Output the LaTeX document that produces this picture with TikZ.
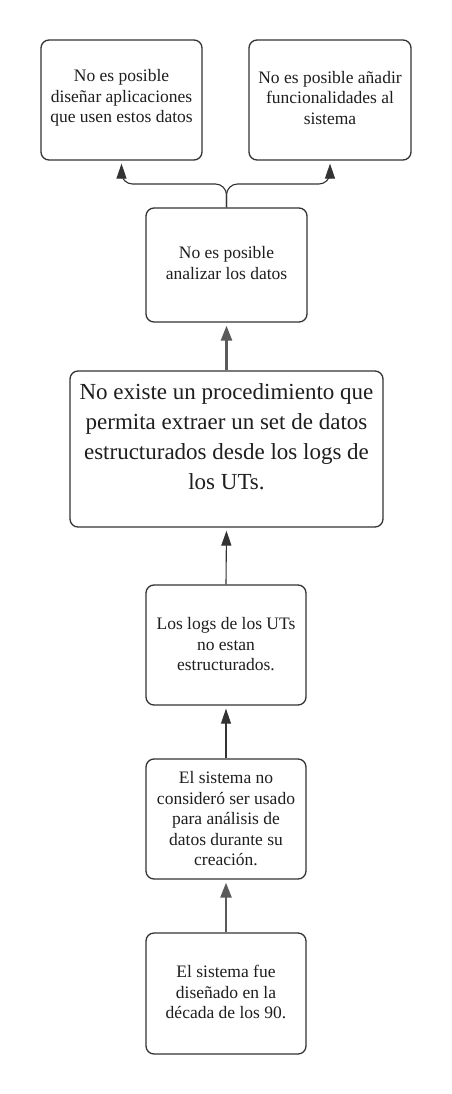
\documentclass[tikz,border=0pt]{standalone}
\usepackage{fontspec}
\setmainfont{Liberation Serif}
\usetikzlibrary{arrows.meta}
\definecolor{boxline}{HTML}{333333}
\definecolor{thickgray}{HTML}{5A5A5A}
\definecolor{txt}{HTML}{1E1E1E}
\tikzset{
  box/.style={draw=boxline, line width=1.3pt, rounded corners=8pt, fill=white, inner sep=0pt},
  smalltxt/.style={align=center, text=txt, font=\fontsize{17.5}{20.5}\selectfont, inner sep=0pt},
  bigtxt/.style={align=center, text=txt, font=\fontsize{23}{30}\selectfont, inner sep=0pt},
  thinarrow/.style={draw=boxline, line width=1.1pt, -{Triangle[length=15pt,width=10pt]}, shorten >=3pt, rounded corners=11pt},
  thickarrow/.style={draw=thickgray, line width=2.4pt, -{Triangle[length=15pt,width=11pt]}, shorten >=3pt}
}
\begin{document}
\begin{tikzpicture}[x=1pt,y=-1pt]
\useasboundingbox (0,0) rectangle (451,1094);
% boxes
\node[box, minimum width=161pt, minimum height=120pt] (b1) at (121.5,100) {};
\node[box, minimum width=162pt, minimum height=120pt] (b2) at (330,100) {};
\node[box, minimum width=161pt, minimum height=114pt] (b3) at (226.5,265) {};
\node[box, minimum width=313pt, minimum height=156pt] (b4) at (226.5,449) {};
\node[box, minimum width=160pt, minimum height=120pt] (b5) at (226,645) {};
\node[box, minimum width=160pt, minimum height=120pt] (b6) at (226,819) {};
\node[box, minimum width=160pt, minimum height=121pt] (b7) at (226,993.5) {};
% texts
\node[smalltxt] (t1) at (121.5,98) {No es posible\\diseñar aplicaciones\\que usen estos datos};
\node[smalltxt] (t2) at (330,98) {No es posible añadir\\funcionalidades al\\sistema};
\node[smalltxt] (t3) at (226.5,263) {No es posible\\analizar los datos};
\node[bigtxt] (t4) at (226.5,437) {No existe un procedimiento que\\permita extraer un set de datos\\estructurados desde los logs de\\los UTs.};
\node[smalltxt] (t5) at (226,644.5) {Los logs de los UTs\\no estan\\estructurados.};
\node[smalltxt] (t6) at (226,819) {El sistema no\\consideró ser usado\\para análisis de\\datos durante su\\creación.};
\node[smalltxt] (t7) at (226,992) {El sistema fue\\diseñado en la\\década de los 90.};
% connectors
\coordinate (split) at (226.5,184);
\draw[thickarrow] (b7.north) -- (b6.south);
\draw[thinarrow] (b6.north) -- (b5.south);
\draw[thinarrow] (b5.north) -- (b4.south);
\draw[thickarrow] (b4.north) -- (b3.south);
\draw[thinarrow] (b3.north) -- (split) -- (split -| b1.south) -- (b1.south);
\draw[thinarrow] (b3.north) -- (split) -- (split -| b2.south) -- (b2.south);
\end{tikzpicture}
\end{document}
